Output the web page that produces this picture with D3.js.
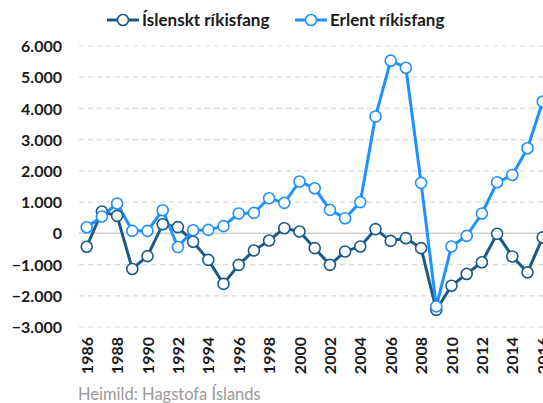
<!DOCTYPE html>
<html><head><meta charset="utf-8">
<script src="https://cdn.jsdelivr.net/npm/d3@7"></script>
<style>body{margin:0;background:#fff;} svg{display:block;font-family:Lato,sans-serif;}</style>
</head><body><svg id="c" width="543" height="403"></svg>
<script>
const years = d3.range(1986, 2017);
const islenskt = [-430,700,560,-1140,-730,290,200,-270,-850,-1620,-1010,-550,-230,165,60,-475,-1010,-580,-420,135,-240,-155,-475,-2450,-1680,-1300,-925,-15,-740,-1250,-130];
const erlent = [195,540,955,80,80,740,-440,100,110,230,635,655,1125,975,1660,1445,750,485,1000,3740,5530,5305,1615,-2340,-420,-80,635,1635,1870,2725,4220];
const yTicks = [6000,5000,4000,3000,2000,1000,0,-1000,-2000,-3000];
const xTickYears = d3.range(1986, 2017, 2);
const seriesNames = ["Íslenskt ríkisfang","Erlent ríkisfang"];
const colors = ["#1b5a86","#1e90ff"];

const svg = d3.select("#c");
const x = d3.scaleLinear().domain([1986,2016]).range([86.7,542.7]);
const y = d3.scaleLinear().domain([-3000,6000]).range([327,46]);
const fmt = v => v===0 ? "0" : d3.format(",")(v).replace(/,/g,".");
const FONT = "Lato, sans-serif";

// grid
const g = svg.append("g");
g.selectAll("line.grid").data(yTicks.filter(v=>v!==0)).join("line")
 .attr("x1",79).attr("x2",543).attr("y1",d=>y(d)).attr("y2",d=>y(d))
 .attr("stroke","#d9d9d9").attr("stroke-width",1.2).attr("stroke-dasharray","5,4");
g.append("line").attr("x1",79).attr("x2",543).attr("y1",y(0)).attr("y2",y(0))
 .attr("stroke","#cfcfcf").attr("stroke-width",1.5);

// y axis
const yAxis = d3.axisLeft(y).tickValues(yTicks).tickFormat(fmt).tickSize(0).tickPadding(0);
svg.append("g").attr("transform","translate(62,0)").call(yAxis)
 .call(a=>a.select(".domain").remove())
 .call(a=>a.selectAll("text").attr("font-family",FONT).attr("font-size",16).attr("font-weight","bold").attr("fill","#1a1a1a").attr("dy","0.35em"));

// x axis
const xAxis = d3.axisBottom(x).tickValues(xTickYears).tickFormat(d3.format("d")).tickSize(0).tickPadding(0);
svg.append("g").attr("transform","translate(0,337)").call(xAxis)
 .call(a=>a.select(".domain").remove())
 .call(a=>a.selectAll("text").attr("font-family",FONT).attr("font-size",16).attr("font-weight","bold").attr("fill","#1a1a1a")
   .attr("transform","rotate(-90)").attr("text-anchor","end").attr("x",0).attr("y",0).attr("dy","0.35em"));

// lines
const data = [islenskt, erlent];
const line = d3.line().x((d,i)=>x(years[i])).y(d=>y(d));
data.forEach((s,k)=>{
  svg.append("path").datum(s).attr("d",line).attr("fill","none").attr("stroke",colors[k]).attr("stroke-width",3).attr("stroke-linejoin","round");
});
data.forEach((s,k)=>{
  svg.append("g").selectAll("circle").data(s).join("circle")
   .attr("cx",(d,i)=>x(years[i])).attr("cy",d=>y(d)).attr("r",5.5)
   .attr("fill","#fff").attr("stroke",colors[k]).attr("stroke-width",1.6);
});

// legend
const legX = [107, 295];
seriesNames.forEach((n,k)=>{
  const lg = svg.append("g").attr("transform",`translate(${legX[k]},20)`);
  lg.append("line").attr("x1",0).attr("x2",32).attr("y1",0).attr("y2",0).attr("stroke",colors[k]).attr("stroke-width",3);
  lg.append("circle").attr("cx",16).attr("cy",0).attr("r",5.5).attr("fill","#fff").attr("stroke",colors[k]).attr("stroke-width",1.6);
  lg.append("text").attr("x",35).attr("y",0).attr("dy","0.35em").attr("font-family",FONT).attr("font-size",17).attr("font-weight","bold").attr("fill","#1a1a1a").text(n);
});

// source
svg.append("text").attr("x",78).attr("y",400).attr("font-family",FONT).attr("font-size",16.5).attr("fill","#9a9a9a").text("Heimild: Hagstofa Íslands");
</script></body></html>
